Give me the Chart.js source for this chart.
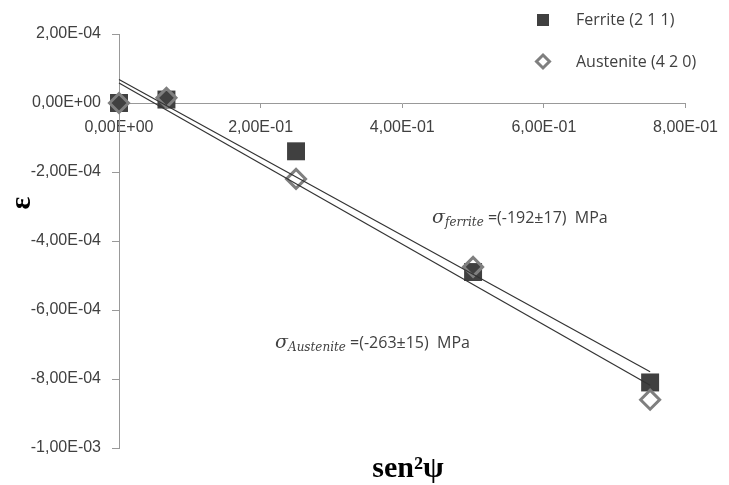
<!DOCTYPE html>
<html>
<head>
<meta charset="utf-8">
<script src="https://cdn.jsdelivr.net/npm/chart.js"></script>
<style>
  body { margin: 0; background: #fff; }
  #wrap { width: 729px; height: 485px; }
</style>
</head>
<body>
<div id="wrap"><canvas id="c" width="729" height="485"></canvas></div>
<script>
// sin²ψ values and measured strains
const sin2psi = [0, 0.067, 0.25, 0.5, 0.75];
const ferrite = [0, 0.1e-4, -1.4e-4, -4.9e-4, -8.1e-4];
const austenite = [0, 0.15e-4, -2.2e-4, -4.75e-4, -8.6e-4];

const xTicks = [0, 0.2, 0.4, 0.6, 0.8];
const yTicks = [-1e-3, -8e-4, -6e-4, -4e-4, -2e-4, 0, 2e-4];

const seriesNames = ['Ferrite (2 1 1)', 'Austenite (4 2 0)'];
const stressLabels = [
  { sub: 'ferrite', text: ' =(-192±17)  MPa' },
  { sub: 'Austenite', text: ' =(-263±15)  MPa' }
];

const darkSquare = '#404040';
const greyDiamond = '#7f7f7f';

// "2,00E-04" style labels
function sci(v) {
  if (Math.abs(v) < 1e-12) v = 0;
  const [m, e] = v.toExponential(2).split('e');
  const n = parseInt(e, 10);
  return m.replace('.', ',') + 'E' + (n < 0 ? '-' : '+') + String(Math.abs(n)).padStart(2, '0');
}

// least-squares trendline, like Excel's linear trendline
function trend(xs, ys) {
  const n = xs.length;
  const mx = xs.reduce((a, b) => a + b, 0) / n;
  const my = ys.reduce((a, b) => a + b, 0) / n;
  let sxy = 0, sxx = 0;
  xs.forEach((x, i) => { sxy += (x - mx) * (ys[i] - my); sxx += (x - mx) * (x - mx); });
  const slope = sxy / sxx;
  const icpt = my - slope * mx;
  const x0 = Math.min(...xs), x1 = Math.max(...xs);
  return [{ x: x0, y: icpt + slope * x0 }, { x: x1, y: icpt + slope * x1 }];
}

const pts = ys => sin2psi.map((x, i) => ({ x, y: ys[i] }));

const textPlugin = {
  id: 'texts',
  afterDraw(chart) {
    const c = chart.ctx;
    c.save();
    c.textBaseline = 'middle';

    // legend
    c.fillStyle = darkSquare;
    c.fillRect(537, 14, 12, 12);
    c.strokeStyle = greyDiamond;
    c.lineWidth = 3;
    c.beginPath();
    c.moveTo(543, 55); c.lineTo(549.5, 61.5); c.lineTo(543, 68); c.lineTo(536.5, 61.5); c.closePath();
    c.stroke();
    c.fillStyle = '#404040';
    c.font = '16px "Open Sans"';
    c.textAlign = 'left';
    c.fillText(seriesNames[0], 576, 20);
    c.fillText(seriesNames[1], 576, 62);

    // stress annotations
    function sigma(x, y, lab) {
      c.textBaseline = 'alphabetic';
      c.fillStyle = '#404040';
      c.font = 'italic 19px "DejaVu Serif"';
      c.fillText('σ', x, y);
      x += c.measureText('σ').width;
      c.font = 'italic 12px "DejaVu Serif"';
      c.fillText(lab.sub, x, y + 3);
      x += c.measureText(lab.sub).width;
      c.font = '16px "Open Sans"';
      c.fillText(lab.text, x, y);
    }
    sigma(432, 223, stressLabels[0]);
    sigma(275, 348, stressLabels[1]);

    // axis titles
    c.fillStyle = '#000';
    c.textAlign = 'center';
    c.font = 'bold 30px "Liberation Serif"';
    c.fillText('sen²ψ', 408, 477);
    c.translate(22, 203);
    c.rotate(-Math.PI / 2);
    c.textBaseline = 'middle';
    c.font = 'bold 30px "Liberation Serif"';
    c.fillText('ε', 0, 0);
    c.restore();
  }
};

new Chart(document.getElementById('c'), {
  type: 'scatter',
  data: {
    datasets: [
      {
        label: 'Ferrite trend', data: trend(sin2psi, ferrite), showLine: true,
        borderColor: '#333', borderWidth: 1.2, pointRadius: 0, order: 0, clip: false
      },
      {
        label: 'Austenite trend', data: trend(sin2psi, austenite), showLine: true,
        borderColor: '#333', borderWidth: 1.2, pointRadius: 0, order: 0, clip: false
      },
      {
        label: seriesNames[1], data: pts(austenite), pointStyle: 'rectRot', pointRadius: 9.5,
        borderColor: greyDiamond, borderWidth: 3, backgroundColor: 'rgba(0,0,0,0)', order: 1, clip: false
      },
      {
        label: seriesNames[0], data: pts(ferrite), pointStyle: 'rect', pointRadius: 12.7,
        borderWidth: 0, backgroundColor: darkSquare, order: 2, clip: false
      }
    ]
  },
  options: {
    responsive: false,
    animation: false,
    events: [],
    devicePixelRatio: 1,
    layout: { padding: { left: 0, right: 34, top: 34, bottom: 37 } },
    plugins: { legend: { display: false }, tooltip: { enabled: false } },
    scales: {
      x: {
        type: 'linear',
        position: { y: 0 },
        min: 0, max: 0.8,
        afterBuildTicks: s => { s.ticks = xTicks.map(v => ({ value: v })); },
        ticks: { callback: sci, color: '#404040', font: { family: '"Liberation Sans"', size: 16 }, padding: 11, maxRotation: 0 },
        grid: { drawOnChartArea: false, tickLength: 4, color: '#999' },
        border: { color: '#999' }
      },
      y: {
        type: 'linear',
        min: -1e-3, max: 2e-4,
        afterBuildTicks: s => { s.ticks = yTicks.map(v => ({ value: v })); },
        afterFit: s => { s.width = 119; },
        ticks: { callback: sci, color: '#404040', font: { family: '"Liberation Sans"', size: 16 }, padding: 11 },
        grid: { drawOnChartArea: false, tickLength: 7, color: '#999' },
        border: { color: '#999' }
      }
    }
  },
  plugins: [textPlugin]
});
</script>
</body>
</html>
